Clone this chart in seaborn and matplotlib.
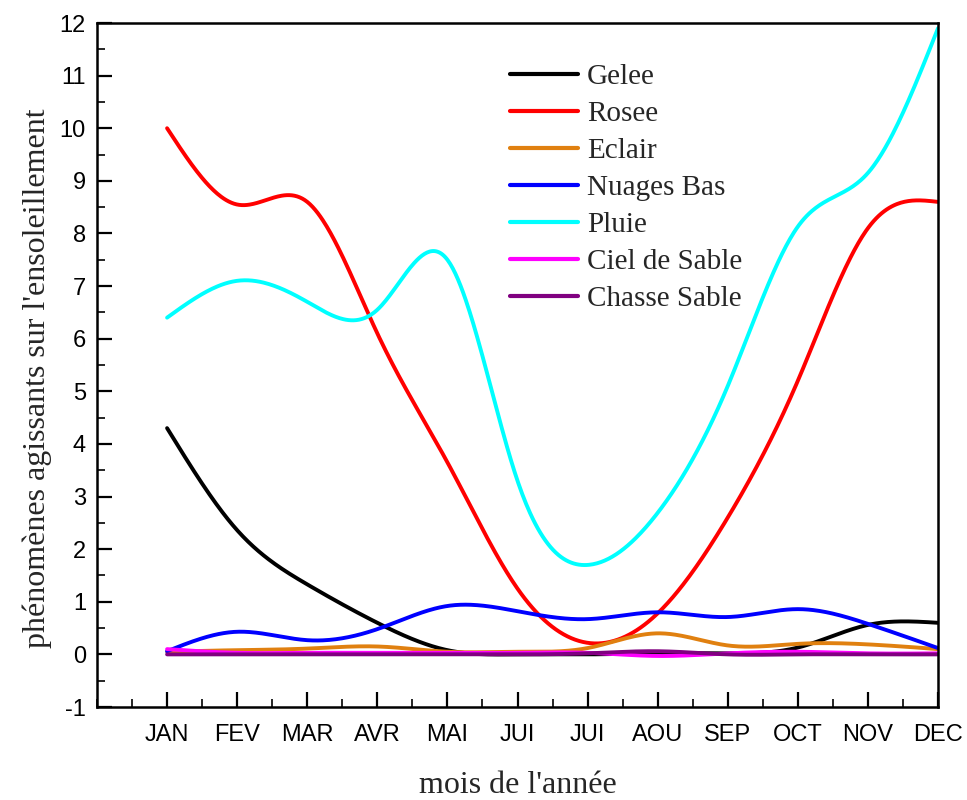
import numpy as np
import pandas as pd
import matplotlib
matplotlib.use("Agg")
import matplotlib.pyplot as plt
from matplotlib.ticker import MultipleLocator
import seaborn as sns

# ---------------- data ----------------
months = ['JAN', 'FEV', 'MAR', 'AVR', 'MAI', 'JUI', 'JUI', 'AOU', 'SEP', 'OCT', 'NOV', 'DEC']
month_pos = list(range(1, 13))

gelee = [4.3, 2.36, 1.33, 0.6, 0.08, 0.0, 0.0, 0.02, 0.02, 0.13, 0.56, 0.6]
rosee = [10.0, 8.55, 8.6, 6.1, 3.65, 1.25, 0.22, 0.78, 2.6, 5.2, 8.1, 8.6]
eclair = [0.05, 0.08, 0.11, 0.15, 0.05, 0.05, 0.12, 0.4, 0.17, 0.2, 0.19, 0.1]
nuages_bas = [0.06, 0.43, 0.27, 0.48, 0.92, 0.82, 0.67, 0.8, 0.71, 0.86, 0.58, 0.12]
pluie = [6.4, 7.1, 6.7, 6.55, 7.5, 3.3, 1.7, 2.69, 5.1, 8.13, 9.15, 11.9]
ciel_de_sable = [0.1, 0.03, 0.03, 0.03, 0.03, 0.03, 0.03, -0.03, 0.02, 0.05, 0.02, 0.02]
chasse_sable = [0.0, 0.0, 0.0, 0.0, 0.0, 0.0, 0.02, 0.06, 0.0, 0.0, 0.0, 0.0]

series_names = ['Gelee', 'Rosee', 'Eclair', 'Nuages Bas', 'Pluie', 'Ciel de Sable', 'Chasse Sable']
series_values = [gelee, rosee, eclair, nuages_bas, pluie, ciel_de_sable, chasse_sable]
series_colors = ['#000000', '#ff0000', '#e08010', '#0000ff', '#00ffff', '#ff00ff', '#800080']

y_label = "phénomènes agissants sur l'ensoleillement"
x_label = "mois de l'année"


# ------------- smooth rendering (natural cubic spline) -------------
def natural_spline(x, y, xs):
    x = np.asarray(x, float)
    y = np.asarray(y, float)
    n = len(x)
    h = np.diff(x)
    A = np.zeros((n, n))
    b = np.zeros(n)
    A[0, 0] = 1
    A[-1, -1] = 1
    for i in range(1, n - 1):
        A[i, i - 1] = h[i - 1]
        A[i, i] = 2 * (h[i - 1] + h[i])
        A[i, i + 1] = h[i]
        b[i] = 6 * ((y[i + 1] - y[i]) / h[i] - (y[i] - y[i - 1]) / h[i - 1])
    M = np.linalg.solve(A, b)
    idx = np.clip(np.searchsorted(x, xs) - 1, 0, n - 2)
    x0, x1 = x[idx], x[idx + 1]
    hh = x1 - x0
    t0 = x1 - xs
    t1 = xs - x0
    return (M[idx] * t0 ** 3 / (6 * hh) + M[idx + 1] * t1 ** 3 / (6 * hh)
            + (y[idx] / hh - M[idx] * hh / 6) * t0
            + (y[idx + 1] / hh - M[idx + 1] * hh / 6) * t1)


xs = np.linspace(month_pos[0], month_pos[-1], 600)
frames = []
for name, vals in zip(series_names, series_values):
    frames.append(pd.DataFrame({'x': xs, 'y': natural_spline(month_pos, vals, xs), 'serie': name}))
df = pd.concat(frames, ignore_index=True)

# ---------------- plot ----------------
sns.set_theme(style='ticks')
plt.rcParams['font.family'] = ['Liberation Sans', 'DejaVu Sans']
plt.rcParams['axes.unicode_minus'] = False

fig = plt.figure(figsize=(9.67, 8.0), dpi=100)
ax = fig.add_axes([97 / 967, 1 - 707 / 800, (938 - 97) / 967, (707 - 23) / 800])

sns.lineplot(data=df, x='x', y='y', hue='serie', hue_order=series_names,
             palette=dict(zip(series_names, series_colors)), linewidth=2.8,
             estimator=None, sort=False, ax=ax)

ax.set_xlim(0, 12)
ax.set_ylim(-1, 12)
ax.set_xticks(month_pos)
ax.set_xticklabels(months)
ax.xaxis.set_minor_locator(MultipleLocator(0.5))
ax.yaxis.set_major_locator(MultipleLocator(1))
ax.yaxis.set_minor_locator(MultipleLocator(0.5))

ax.tick_params(axis='both', which='major', direction='in', length=11, width=1.6,
               labelsize=17, colors='black')
ax.tick_params(axis='both', which='minor', direction='in', length=6, width=1.4)
ax.tick_params(axis='x', which='major', pad=12)
ax.tick_params(axis='y', which='major', pad=8)
ax.tick_params(top=False, right=False, which='both')
for sp in ax.spines.values():
    sp.set_linewidth(1.8)
    sp.set_color('black')

serif = ['Liberation Serif', 'DejaVu Serif']
ax.set_xlabel(x_label, fontsize=23, family=serif)
ax.set_ylabel(y_label, fontsize=23, family=serif)
ax.xaxis.set_label_coords(0.5, -0.093)
ax.yaxis.set_label_coords(-0.054, 0.481)

handles, labels = ax.get_legend_handles_labels()
leg = ax.legend(handles, labels, loc='upper left', bbox_to_anchor=(0.491, 0.94),
                frameon=False, borderpad=0, borderaxespad=0, handlelength=2.33,
                handletextpad=0.31, labelspacing=0.36,
                prop={'family': serif, 'size': 21})
for line in leg.get_lines():
    line.set_linewidth(3)

fig.savefig('out.png', dpi=100, facecolor='white')
